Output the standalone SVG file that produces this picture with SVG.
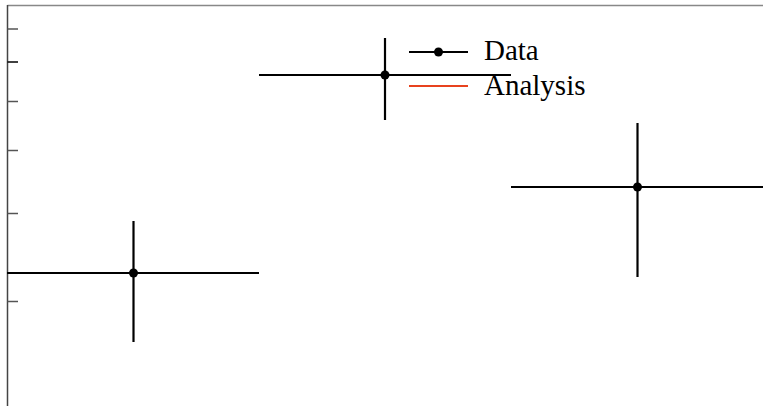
<svg xmlns="http://www.w3.org/2000/svg" width="763" height="406" viewBox="0 0 763 406">
<style>
.ax{stroke:#444;stroke-width:1.5;fill:none}
.tick{stroke:#555;stroke-width:1.5}
.err{stroke:#000;stroke-width:2.2;fill:none}
.pt{fill:#000}
.lbl{font-family:"Liberation Serif",serif;font-size:29px;fill:#000}
</style>
<rect width="763" height="406" fill="#fff"/>
<g id="axes">
<line class="ax" x1="7.5" y1="5.5" x2="763" y2="5.5" style="stroke:#888"/>
<line class="ax" x1="7.5" y1="5" x2="7.5" y2="406"/>
<line class="tick" x1="7.5" y1="29" x2="18" y2="29"/>
<line class="tick" x1="7.5" y1="62" x2="18" y2="62" style="stroke:#000"/>
<line class="tick" x1="7.5" y1="101.5" x2="18" y2="101.5"/>
<line class="tick" x1="7.5" y1="150.5" x2="18" y2="150.5"/>
<line class="tick" x1="7.5" y1="213.5" x2="18" y2="213.5"/>
<line class="tick" x1="7.5" y1="301.5" x2="18" y2="301.5"/>
</g>
<g id="data">
<g id="p1"><line class="err" x1="7" y1="273" x2="259" y2="273"/><line class="err" x1="133.5" y1="221" x2="133.5" y2="342"/><circle class="pt" cx="133.5" cy="273" r="4.5"/></g>
<g id="p2"><line class="err" x1="259" y1="75" x2="511" y2="75"/><line class="err" x1="385" y1="38" x2="385" y2="120"/><circle class="pt" cx="385" cy="75" r="4.5"/></g>
<g id="p3"><line class="err" x1="511" y1="187" x2="763" y2="187"/><line class="err" x1="637.5" y1="123" x2="637.5" y2="277"/><circle class="pt" cx="637.5" cy="187" r="4.5"/></g>
</g>
<g id="legend">
<line class="err" x1="409" y1="52" x2="468" y2="52"/><circle class="pt" cx="438.5" cy="52" r="4.5"/>
<text class="lbl" x="484" y="60">Data</text>
<line x1="409" y1="86" x2="468" y2="86" stroke="#e8421e" stroke-width="2"/>
<text class="lbl" x="484" y="95">Analysis</text>
</g>
</svg>
